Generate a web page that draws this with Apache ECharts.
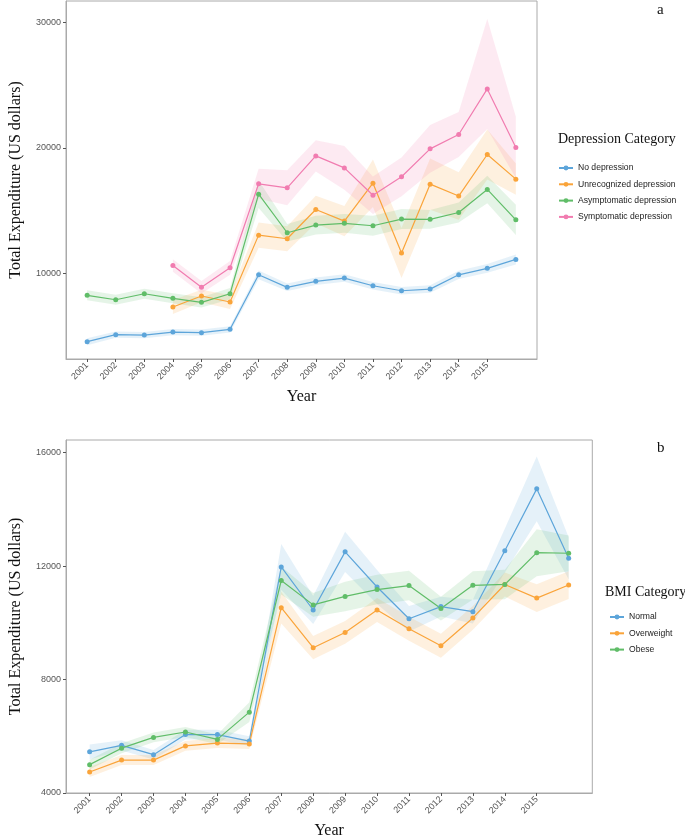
<!DOCTYPE html>
<html>
<head>
<meta charset="utf-8">
<script src="https://cdn.jsdelivr.net/npm/echarts@6/dist/echarts.min.js"></script>
<style>
  html, body { margin: 0; padding: 0; background: #fff; }
  #chart { width: 685px; height: 840px; }
</style>
</head>
<body>
<div id="chart"></div>
<script>
// years on the x axis (last point has no label)
var years = [2001, 2002, 2003, 2004, 2005, 2006, 2007, 2008, 2009, 2010, 2011, 2012, 2013, 2014, 2015, 2016];
var yearsFrom2004 = [2004, 2005, 2006, 2007, 2008, 2009, 2010, 2011, 2012, 2013, 2014, 2015, 2016];
var yearLabels = [2001, 2002, 2003, 2004, 2005, 2006, 2007, 2008, 2009, 2010, 2011, 2012, 2013, 2014, 2015];

// panel a - depression category
var noDep = [4520, 5080, 5050, 5290, 5240, 5510, 9860, 8860, 9340, 9600, 8990, 8590, 8720, 9860, 10380, 11090];
var noDepLo = [4240, 4830, 4800, 5040, 4990, 5260, 9510, 8560, 9040, 9300, 8690, 8290, 8420, 9530, 10030, 10690];
var noDepHi = [4800, 5330, 5300, 5540, 5490, 5760, 10210, 9160, 9640, 9900, 9290, 8890, 9020, 10190, 10730, 11490];

var unrec = [7290, 8170, 7690, 13030, 12740, 15080, 14150, 17180, 11600, 17100, 16150, 19470, 17500];
var unrecLo = [6740, 7670, 7140, 12030, 11740, 13980, 12950, 15280, 9600, 15050, 14250, 17470, 16250];
var unrecHi = [7840, 8670, 8240, 14030, 13740, 16180, 15350, 19080, 13600, 19150, 18050, 21470, 18750];

var asym = [8220, 7870, 8350, 7980, 7660, 8350, 16300, 13220, 13830, 13970, 13780, 14310, 14290, 14840, 16680, 14250];
var asymLo = [7820, 7470, 7950, 7580, 7260, 7900, 15200, 12520, 13080, 13220, 12980, 13510, 13540, 14040, 15580, 13050];
var asymHi = [8620, 8270, 8750, 8380, 8060, 8800, 17400, 13920, 14580, 14720, 14580, 15110, 15040, 15640, 17780, 15450];

var symp = [10610, 8860, 10420, 17130, 16810, 19360, 18400, 16220, 17690, 19920, 21070, 24710, 20030];
var sympLo = [10110, 8360, 9870, 15930, 15410, 18110, 16650, 14720, 16140, 18020, 19270, 21500, 17600];
var sympHi = [11110, 9360, 10970, 18330, 18210, 20610, 20150, 17720, 19240, 21820, 22870, 30300, 22480];

// panel b - BMI category
var normal = [5450, 5680, 5350, 6060, 6060, 5830, 11970, 10450, 12500, 11260, 10140, 10570, 10390, 12540, 14720, 12270];
var normalLo = [5190, 5500, 5180, 5890, 5890, 5660, 11160, 9960, 11790, 10660, 9690, 10220, 9970, 11770, 13580, 11530];
var normalHi = [5710, 5860, 5520, 6230, 6230, 6000, 12780, 10940, 13210, 11860, 10590, 10920, 10810, 13310, 15860, 13010];

var overw = [4740, 5160, 5160, 5660, 5760, 5730, 10530, 9120, 9660, 10450, 9790, 9190, 10170, 11350, 10870, 11330];
var overwLo = [4565, 4985, 4985, 5485, 5585, 5555, 9970, 8710, 9260, 10030, 9370, 8770, 9750, 10930, 10380, 10840];
var overwHi = [4915, 5335, 5335, 5835, 5935, 5905, 11090, 9530, 10060, 10870, 10210, 9610, 10590, 11770, 11360, 11820];

var obese = [5000, 5580, 5960, 6150, 5890, 6850, 11490, 10630, 10930, 11170, 11310, 10500, 11320, 11350, 12470, 12450];
var obeseLo = [4825, 5405, 5785, 5975, 5715, 6500, 11000, 10210, 10410, 10650, 10790, 10080, 10820, 10830, 11640, 11820];
var obeseHi = [5175, 5755, 6135, 6325, 6065, 7200, 11980, 11050, 11450, 11690, 11830, 10920, 11820, 11870, 13300, 13080];

var BLUE = '#5DA5DA', ORANGE = '#FAA43A', GREEN = '#60BD68', PINK = '#F17CB0';
var sans = 'Liberation Sans', serif = 'Liberation Serif';

var chart = echarts.init(document.getElementById('chart'));

function zip(xs, ys) {
    var out = [];
    for (var i = 0; i < xs.length; i++) out.push([xs[i], ys[i]]);
    return out;
}

function lineSeries(name, gi, xs, ys, color) {
    return {
        name: name, type: 'line', xAxisIndex: gi, yAxisIndex: gi,
        data: zip(xs, ys), symbol: 'circle', symbolSize: 5, z: 3,
        itemStyle: { color: color },
        lineStyle: { color: color, width: 1.2 },
        emphasis: { disabled: true }
    };
}

// confidence ribbon drawn as one polygon through the axis coords
function bandSeries(gi, xs, lo, hi, color) {
    var data = [];
    for (var i = 0; i < xs.length; i++) data.push([xs[i], lo[i], hi[i]]);
    return {
        type: 'custom', xAxisIndex: gi, yAxisIndex: gi, silent: true, z: 1,
        data: data, encode: { x: 0, y: [1, 2] },
        renderItem: function (params, api) {
            if (params.dataIndex !== 0) return;
            var pts = [];
            for (var i = 0; i < xs.length; i++) pts.push(api.coord([xs[i], hi[i]]));
            for (var j = xs.length - 1; j >= 0; j--) pts.push(api.coord([xs[j], lo[j]]));
            return { type: 'polygon', shape: { points: pts }, style: { fill: color, opacity: 0.16 } };
        }
    };
}

function xAxisFor(gi) {
    return {
        type: 'value', gridIndex: gi, min: 2000.26, max: 2016.74,
        axisLine: { show: true, lineStyle: { color: '#aaa' } },
        axisTick: { show: true, length: 3, lineStyle: { color: '#555' }, customValues: yearLabels },
        axisLabel: { customValues: yearLabels, rotate: 45, fontSize: 9, fontFamily: sans, color: '#555', margin: 5,
            formatter: function (v) { return String(v); } },
        splitLine: { show: false },
        name: 'Year', nameLocation: 'middle', nameGap: 30,
        nameTextStyle: { fontFamily: serif, fontSize: 16, color: '#111' }
    };
}

function yAxisFor(gi, min, max, ticks) {
    return {
        type: 'value', gridIndex: gi, min: min, max: max,
        axisLine: { show: true, lineStyle: { color: '#aaa' } },
        axisTick: { show: true, length: 3, lineStyle: { color: '#555' }, customValues: ticks },
        axisLabel: { customValues: ticks, fontSize: 9, fontFamily: sans, color: '#555', margin: 5,
            formatter: function (v) { return String(v); } },
        splitLine: { show: false },
        name: 'Total Expenditure (US dollars)', nameLocation: 'middle', nameGap: 42,
        nameTextStyle: { fontFamily: serif, fontSize: 16, color: '#111' }
    };
}

function legendFor(names, left, top) {
    return {
        orient: 'vertical', left: left, top: top, data: names,
        itemWidth: 14, itemHeight: 6, itemGap: 0.3,
        textStyle: { fontFamily: sans, fontSize: 8.6, color: '#222', lineHeight: 16 },
        selectedMode: false
    };
}

var option = {
    animation: false,
    backgroundColor: '#fff',
    title: [
        { text: 'a', left: 652, top: -2, textStyle: { fontFamily: serif, fontSize: 15, fontWeight: 'normal', color: '#111' } },
        { text: 'b', left: 652, top: 436, textStyle: { fontFamily: serif, fontSize: 15, fontWeight: 'normal', color: '#111' } },
        { text: 'Depression Category', left: 553, top: 127, textStyle: { fontFamily: serif, fontSize: 14, fontWeight: 'normal', color: '#111' } },
        { text: 'BMI Category', left: 600, top: 580, textStyle: { fontFamily: serif, fontSize: 14, fontWeight: 'normal', color: '#111' } }
    ],
    grid: [
        { left: 58.5, top: 1, width: 478.5, height: 358, show: true, borderColor: '#aaa', borderWidth: 1 },
        { left: 58.3, top: 440, width: 534, height: 357.5, show: true, borderColor: '#aaa', borderWidth: 1 }
    ],
    xAxis: [xAxisFor(0), xAxisFor(1)],
    yAxis: [
        yAxisFor(0, 3137, 31730, [10000, 20000, 30000]),
        yAxisFor(1, 4000, 16442, [4000, 8000, 12000, 16000])
    ],
    legend: [
        legendFor(['No depression', 'Unrecognized depression', 'Asymptomatic depression', 'Symptomatic depression'], 553, 155),
        legendFor(['Normal', 'Overweight', 'Obese'], 604, 604)
    ],
    series: [
        bandSeries(0, years, noDepLo, noDepHi, BLUE),
        bandSeries(0, yearsFrom2004, unrecLo, unrecHi, ORANGE),
        bandSeries(0, years, asymLo, asymHi, GREEN),
        bandSeries(0, yearsFrom2004, sympLo, sympHi, PINK),
        lineSeries('No depression', 0, years, noDep, BLUE),
        lineSeries('Unrecognized depression', 0, yearsFrom2004, unrec, ORANGE),
        lineSeries('Asymptomatic depression', 0, years, asym, GREEN),
        lineSeries('Symptomatic depression', 0, yearsFrom2004, symp, PINK),

        bandSeries(1, years, normalLo, normalHi, BLUE),
        bandSeries(1, years, overwLo, overwHi, ORANGE),
        bandSeries(1, years, obeseLo, obeseHi, GREEN),
        lineSeries('Normal', 1, years, normal, BLUE),
        lineSeries('Overweight', 1, years, overw, ORANGE),
        lineSeries('Obese', 1, years, obese, GREEN)
    ]
};

chart.setOption(option);
</script>
</body>
</html>
